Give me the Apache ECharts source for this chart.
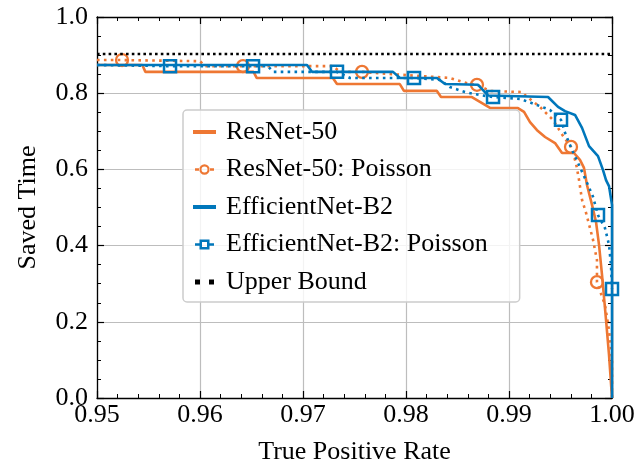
<!DOCTYPE html>
<html>
<head>
<meta charset="utf-8">
<script src="https://cdn.jsdelivr.net/npm/echarts@6/dist/echarts.min.js"></script>
<style>
  html, body { margin: 0; padding: 0; background: #fff; }
  #chart { width: 640px; height: 465px; }
</style>
</head>
<body>
<div id="chart"></div>
<script>
// Saved time vs. true positive rate for two backbones, measured and Poisson-modelled.
const seriesNames = ['ResNet-50', 'ResNet-50: Poisson', 'EfficientNet-B2', 'EfficientNet-B2: Poisson', 'Upper Bound'];

const resnetX = [0.95, 0.9544, 0.9547, 0.9652, 0.9655, 0.9729, 0.9733, 0.9794, 0.9798, 0.9830, 0.9834, 0.9864,
  0.9882, 0.99087, 0.99146, 0.99204, 0.99272, 0.99350, 0.99447, 0.99515, 0.99631, 0.99689, 0.99728, 0.99757,
  0.99806, 0.99845, 0.99874, 0.99903, 0.99942, 0.99971, 1.0];
const resnetY = [0.874, 0.874, 0.856, 0.856, 0.840, 0.840, 0.824, 0.824, 0.806, 0.806, 0.790, 0.790,
  0.761, 0.761, 0.751, 0.724, 0.703, 0.685, 0.669, 0.643, 0.643, 0.625, 0.604, 0.559,
  0.507, 0.462, 0.402, 0.323, 0.205, 0.113, 0.0];

const resnetPoisX = [0.95, 0.95243, 0.9600, 0.96049, 0.96417, 0.97291, 0.97359, 0.97573, 0.97864, 0.98427,
  0.98621, 0.98689, 0.98816, 0.99126, 0.99155, 0.99300, 0.99427, 0.99524, 0.99602, 0.99650, 0.99680,
  0.99709, 0.99748, 0.99816, 0.99854, 0.99854, 0.99932, 0.99971, 1.0, 1.0];
const resnetPoisY = [0.887, 0.887, 0.884, 0.871, 0.871, 0.871, 0.856, 0.856, 0.850, 0.840,
  0.824, 0.822, 0.806, 0.803, 0.795, 0.764, 0.730, 0.688, 0.659, 0.617, 0.572,
  0.520, 0.486, 0.415, 0.362, 0.304, 0.244, 0.178, 0.100, 0.0];
const resnetPoisMarks = [1, 4, 7, 11, 18, 25];

const effX = [0.95, 0.97039, 0.97087, 0.97874, 0.97942, 0.9830, 0.98379, 0.9870, 0.98796, 0.99379,
  0.99476, 0.99544, 0.99641, 0.99709, 0.99777, 0.99864, 0.99913, 0.99942, 0.99971, 1.0, 1.0];
const effY = [0.874, 0.874, 0.856, 0.856, 0.840, 0.840, 0.824, 0.822, 0.794, 0.790,
  0.764, 0.753, 0.743, 0.709, 0.661, 0.635, 0.598, 0.572, 0.556, 0.507, 0.0];

const effPoisX = [0.95, 0.95709, 0.96515, 0.9666, 0.96709, 0.9733, 0.97456, 0.98078, 0.9833, 0.98427,
  0.98573, 0.98718, 0.98845, 0.99107, 0.99272, 0.99398, 0.99505, 0.99544, 0.99612, 0.99689,
  0.99767, 0.99816, 0.99864, 0.99932, 0.99971, 0.9999, 1.0];
const effPoisY = [0.874, 0.871, 0.871, 0.871, 0.856, 0.856, 0.840, 0.840, 0.835, 0.816,
  0.803, 0.795, 0.790, 0.785, 0.769, 0.756, 0.730, 0.696, 0.651, 0.606,
  0.559, 0.528, 0.480, 0.446, 0.402, 0.349, 0.286];
const effPoisMarks = [1, 2, 5, 7, 12, 16, 22, 26];

const upperBound = 0.903;

const xRange = [0.95, 1.0];
const yRange = [0.0, 1.0];

const ORANGE = '#EE7733';
const BLUE = '#0077BB';
const FONT = "'Liberation Serif', 'Times New Roman', serif";

function pairs(xs, ys) { return xs.map((x, i) => [x, ys[i]]); }
function markedPairs(xs, ys, marks) {
  return xs.map((x, i) => ({ value: [x, ys[i]], symbol: marks.indexOf(i) >= 0 ? undefined : 'none' }));
}

// Legend glyphs, drawn in a 28x14 box (the leading moves pin the box size).
const FRAME = 'M0 0 M28 14 ';
const iconSolid = 'path://' + FRAME + 'M0 5 H23 V9 H0 Z';
const iconCircle = 'path://' + FRAME + 'M2 5.8 H7 V8.2 H2 Z M16 5.8 H21 V8.2 H16 Z ' +
  'M6.3 7 A5.2 5.2 0 1 0 16.7 7 A5.2 5.2 0 1 0 6.3 7 Z M8.5 7 A3 3 0 1 1 14.5 7 A3 3 0 1 1 8.5 7 Z';
const iconSquare = 'path://' + FRAME + 'M2 5.8 H7 V8.2 H2 Z M16 5.8 H21 V8.2 H16 Z ' +
  'M6.5 2 H16.5 V12 H6.5 Z M9 4.5 V9.5 H14 V4.5 Z';
const iconDots = 'path://' + FRAME + 'M2 4.5 H7 V9.5 H2 Z M16 4.5 H21 V9.5 H16 Z';

const chart = echarts.init(document.getElementById('chart'), null, { renderer: 'canvas' });

const gridLine = { show: true, lineStyle: { color: '#bdbdbd', width: 1.2 } };
const axisBase = {
  type: 'value',
  axisLine: { show: true, onZero: false, lineStyle: { color: '#000', width: 1.3 } },
  axisTick: { show: true, inside: true, length: 7, lineStyle: { color: '#000', width: 1.2 } },
  minorTick: { show: true, length: 4, lineStyle: { color: '#000', width: 1 } },
};

chart.setOption({
  animation: false,
  backgroundColor: '#fff',
  grid: { left: 97, right: 28, top: 17, bottom: 67, containLabel: false, outerBoundsMode: 'none' },
  xAxis: [
    Object.assign({}, axisBase, {
      position: 'bottom', min: xRange[0], max: xRange[1], interval: 0.01,
      minorTick: Object.assign({}, axisBase.minorTick, { splitNumber: 5 }),
      splitLine: gridLine,
      axisLabel: { show: true, margin: 4, color: '#000', fontFamily: FONT, fontSize: 26,
        formatter: v => v.toFixed(2) },
      name: 'True Positive Rate', nameLocation: 'middle', nameGap: 41,
      nameTextStyle: { color: '#000', fontFamily: FONT, fontSize: 26 }
    }),
    Object.assign({}, axisBase, {
      position: 'top', min: xRange[0], max: xRange[1], interval: 0.01,
      minorTick: Object.assign({}, axisBase.minorTick, { splitNumber: 5 }),
      splitLine: { show: false }, axisLabel: { show: false }
    })
  ],
  yAxis: [
    Object.assign({}, axisBase, {
      position: 'left', min: yRange[0], max: yRange[1], interval: 0.2,
      minorTick: Object.assign({}, axisBase.minorTick, { splitNumber: 4 }),
      splitLine: gridLine,
      axisLabel: { show: true, margin: 9, color: '#000', fontFamily: FONT, fontSize: 26,
        formatter: v => v.toFixed(1) },
      name: 'Saved Time', nameLocation: 'middle', nameGap: 56,
      nameTextStyle: { color: '#000', fontFamily: FONT, fontSize: 26 }
    }),
    Object.assign({}, axisBase, {
      position: 'right', min: yRange[0], max: yRange[1], interval: 0.2,
      minorTick: Object.assign({}, axisBase.minorTick, { splitNumber: 4 }),
      splitLine: { show: false }, axisLabel: { show: false }
    })
  ],
  legend: {
    orient: 'vertical', left: 183, top: 110,
    padding: [9, 32, 7, 10],
    itemWidth: 28, itemHeight: 14, itemGap: 11.5,
    symbolKeepAspect: false,
    backgroundColor: 'rgba(255,255,255,0.82)',
    borderColor: '#cccccc', borderWidth: 1.5, borderRadius: 4,
    textStyle: { color: '#000', fontFamily: FONT, fontSize: 26, lineHeight: 26 },
    data: [
      { name: seriesNames[0], icon: iconSolid, itemStyle: { color: ORANGE, borderWidth: 0 } },
      { name: seriesNames[1], icon: iconCircle, itemStyle: { color: ORANGE, borderWidth: 0 } },
      { name: seriesNames[2], icon: iconSolid, itemStyle: { color: BLUE, borderWidth: 0 } },
      { name: seriesNames[3], icon: iconSquare, itemStyle: { color: BLUE, borderWidth: 0 } },
      { name: seriesNames[4], icon: iconDots, itemStyle: { color: '#000', borderWidth: 0 } }
    ]
  },
  series: [
    {
      name: seriesNames[0], type: 'line', symbol: 'none', z: 2,
      itemStyle: { color: ORANGE },
      lineStyle: { color: ORANGE, width: 2.6 },
      data: pairs(resnetX, resnetY)
    },
    {
      name: seriesNames[1], type: 'line', symbol: 'circle', symbolSize: 12, showAllSymbol: true, z: 3,
      itemStyle: { color: 'rgba(0,0,0,0)', borderColor: ORANGE, borderWidth: 2.3 },
      lineStyle: { color: ORANGE, width: 2.6, type: [2.6, 4.3], cap: 'butt' },
      data: markedPairs(resnetPoisX, resnetPoisY, resnetPoisMarks)
    },
    {
      name: seriesNames[2], type: 'line', symbol: 'none', z: 4,
      itemStyle: { color: BLUE },
      lineStyle: { color: BLUE, width: 2.6 },
      data: pairs(effX, effY)
    },
    {
      name: seriesNames[3], type: 'line', symbol: 'rect', symbolSize: 12, showAllSymbol: true, z: 5,
      itemStyle: { color: 'rgba(0,0,0,0)', borderColor: BLUE, borderWidth: 2.5 },
      lineStyle: { color: BLUE, width: 2.6, type: [2.6, 4.3], cap: 'butt' },
      data: markedPairs(effPoisX, effPoisY, effPoisMarks)
    },
    {
      name: seriesNames[4], type: 'line', symbol: 'none', z: 6,
      itemStyle: { color: '#000' },
      lineStyle: { color: '#000', width: 2.6, type: [2.6, 3.2], cap: 'butt' },
      data: [[xRange[0], upperBound], [xRange[1], upperBound]]
    }
  ]
});
</script>
</body>
</html>
